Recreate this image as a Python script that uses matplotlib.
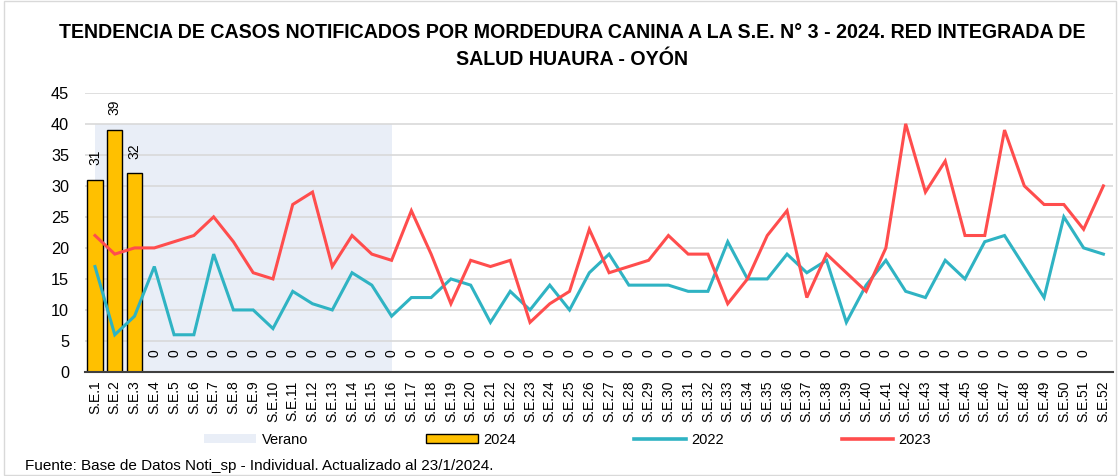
import numpy as np
import matplotlib
matplotlib.use("Agg")
import matplotlib.pyplot as plt
from matplotlib.patches import Patch, Rectangle
from matplotlib.lines import Line2D

plt.rcParams['font.family'] = ['Liberation Sans', 'DejaVu Sans']

semanas = ["S.E.%d" % i for i in range(1, 53)]
casos_2022 = [17, 6, 9, 17, 6, 6, 19, 10, 10, 7, 13, 11, 10, 16, 14, 9,
              12, 12, 15, 14, 8, 13, 10, 14, 10, 16, 19, 14, 14, 14, 13, 13,
              21, 15, 15, 19, 16, 18, 8, 14, 18, 13, 12, 18, 15, 21, 22, 17,
              12, 25, 20, 19]
casos_2023 = [22, 19, 20, 20, 21, 22, 25, 21, 16, 15, 27, 29, 17, 22, 19, 18,
              26, 19, 11, 18, 17, 18, 8, 11, 13, 23, 16, 17, 18, 22, 19, 19,
              11, 15, 22, 26, 12, 19, 16, 13, 20, 40, 29, 34, 22, 22, 39, 30,
              27, 27, 23, 30]
casos_2024 = [31, 39, 32] + [0] * 48 + [np.nan]
verano_semanas = 16
verano_valor = 40

c_bar = "#FFC000"
c_2022 = "#2FB3C3"
c_2023 = "#FF4D4D"
c_verano = "#E9EEF7"

fig = plt.figure(figsize=(11.2, 4.76), dpi=100)
ax = fig.add_axes([0.076, 0.2185, 0.918, 0.5865])

x = np.arange(len(semanas))

# verano (area)
xv = x[:verano_semanas]
ax.fill_between(xv, 0, verano_valor, color=c_verano, lw=0, zorder=0)

# gridlines
ax.set_ylim(0, 45)
ax.set_yticks(range(0, 46, 5))
ax.yaxis.grid(True, color="#D9D9D9", lw=1.2, zorder=0.5)
ax.set_axisbelow(True)

bars = ax.bar(x, casos_2024, width=0.76, color=c_bar, edgecolor="black", lw=1, zorder=2)
for xi, v in zip(x, casos_2024):
    if np.isnan(v):
        continue
    ax.annotate("%d" % v, (xi, v), xytext=(0, 10.5), textcoords="offset points",
                rotation=90, ha="center", va="bottom", fontsize=10, zorder=4)

ax.plot(x, casos_2022, color=c_2022, lw=2.2, zorder=3, solid_joinstyle="miter")
ax.plot(x, casos_2023, color=c_2023, lw=2.2, zorder=3, solid_joinstyle="miter")

ax.set_xlim(-0.5, len(semanas) - 0.5)
ax.set_xticks(x)
ax.set_xticklabels(semanas, rotation=90, fontsize=10)
ax.tick_params(axis="x", length=0, pad=6)
ax.tick_params(axis="y", length=0, labelsize=11.7, pad=11.5)

for s in ["top", "right", "left"]:
    ax.spines[s].set_visible(False)
ax.spines["bottom"].set_color("#404040")
ax.spines["bottom"].set_linewidth(1.5)

fig.text(0.511, 0.932, "TENDENCIA DE CASOS NOTIFICADOS POR MORDEDURA CANINA A LA S.E. N° 3 - 2024. RED INTEGRADA DE",
         ha="center", va="center", fontsize=14.1, fontweight="bold")
fig.text(0.511, 0.874, "SALUD HUAURA - OYÓN",
         ha="center", va="center", fontsize=14.1, fontweight="bold")

handles = [Patch(facecolor=c_verano, edgecolor="none"),
           Patch(facecolor=c_bar, edgecolor="black", lw=1),
           Line2D([], [], color=c_2022, lw=2.6),
           Line2D([], [], color=c_2023, lw=2.6)]
fig.legend(handles, ["Verano", "2024", "2022", "2023"], loc="center",
           bbox_to_anchor=(0.507, 0.0756), ncol=4, frameon=False, fontsize=10.5,
           handlelength=3.56, handleheight=0.55, handletextpad=0.35, columnspacing=8.1)

fig.text(0.022, 0.02, "Fuente: Base de Datos Noti_sp - Individual. Actualizado al 23/1/2024.",
         ha="left", va="center", fontsize=11)

fig.patches.append(Rectangle((0.004, 0.002), 0.992, 0.996, transform=fig.transFigure,
                             fill=False, edgecolor="#D9D9D9", lw=1))

fig.savefig("out.png", dpi=100)
